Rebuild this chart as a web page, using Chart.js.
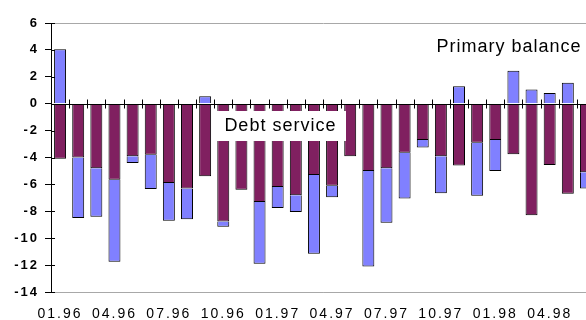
<!DOCTYPE html>
<html>
<head>
<meta charset="utf-8">
<script src="https://cdn.jsdelivr.net/npm/chart.js@4.4.0/dist/chart.umd.min.js"></script>
<style>
    html, body { margin: 0; padding: 0; background: #fff; overflow: hidden; }
    #wrap { width: 586px; height: 320px; overflow: hidden; }
</style>
</head>
<body>
<div id="wrap"><canvas id="budget-graphic" width="600" height="320"></canvas></div>
<script>
// Monthly budget, % of GDP: debt service vs primary balance

var months = [
    "01.96", "02.96", "03.96", "04.96", "05.96", "06.96", "07.96", "08.96", "09.96", "10.96",
    "11.96", "12.96", "01.97", "02.97", "03.97", "04.97", "05.97", "06.97", "07.97", "08.97",
    "09.97", "10.97", "11.97", "12.97", "01.98", "02.98", "03.98", "04.98", "05.98", "06.98",
];

var debtService = [
    -4.1, -4.0, -4.8, -5.65, -3.9, -3.8, -5.9, -6.3, -5.4, -8.75,
    -6.4, -7.3, -6.2, -6.8, -5.3, -6.1, -3.9, -5.0, -4.8, -3.65,
    -2.7, -3.9, -4.6, -2.9, -2.7, -3.75, -8.3, -4.55, -6.7, -5.1,
];

var primaryBalance = [
    4.05, -4.5, -3.6, -6.1, -0.5, -2.55, -2.8, -2.3, 0.55, -0.4,
    0, -4.6, -1.55, -1.25, -5.85, -0.85, 0, -7.1, -4.05, -3.4,
    -0.55, -2.75, 1.3, -3.95, -2.3, 2.45, 1.05, 0.8, 1.55, -1.2,
];

var yMin = -14;
var yMax = 6;
var yStep = 2;

var fontFamily = "'Liberation Sans', Arial, sans-serif";

// zero line, category ticks on it, inner y ticks and the two series captions
var axisMarks = {
    id: "axisMarks",
    beforeDraw: function (chart) {
        chart.ctx.letterSpacing = "2px";
    },
    afterDatasetsDraw: function (chart) {
        var ctx = chart.ctx;
        var x = chart.scales.x;
        var y = chart.scales.y;
        var area = chart.chartArea;
        var zero = Math.round(y.getPixelForValue(0)) + 0.5;

        ctx.save();
        ctx.strokeStyle = "#000";
        ctx.lineWidth = 1;
        ctx.beginPath();
        ctx.moveTo(area.left, zero);
        ctx.lineTo(area.right, zero);
        for (var i = 1; i < months.length; i++) {
            var px = Math.round((x.getPixelForValue(i - 1) + x.getPixelForValue(i)) / 2) + 0.5;
            ctx.moveTo(px, zero - 5);
            ctx.lineTo(px, zero + 4);
        }
        y.ticks.forEach(function (t) {
            var py = Math.round(y.getPixelForValue(t.value)) + 0.5;
            ctx.moveTo(area.left, py);
            ctx.lineTo(area.left + 4, py);
        });
        ctx.stroke();
        ctx.restore();
    },
    afterDraw: function (chart) {
        var ctx = chart.ctx;
        var x = chart.scales.x;
        var y = chart.scales.y;

        ctx.save();
        ctx.letterSpacing = "1px";
        ctx.font = "18px " + fontFamily;
        ctx.textBaseline = "middle";
        ctx.fillStyle = "#000";

        // "Debt service" sits in a white box over the bars
        var cx = x.getPixelForValue(12.15);
        var cy = y.getPixelForValue(-1.68);
        var w = ctx.measureText("Debt service").width;
        ctx.fillStyle = "#fff";
        ctx.fillRect(Math.round(cx - w / 2 - 10), Math.round(cy - 15), Math.round(w + 20), 30);
        ctx.fillStyle = "#000";
        ctx.textAlign = "center";
        ctx.fillText("Debt service", cx, cy);

        ctx.textAlign = "left";
        ctx.fillText("Primary balance", x.getPixelForValue(20.76), y.getPixelForValue(4.2));
        ctx.restore();

        ctx.letterSpacing = "0px";
    },
};

var ctx = document.getElementById("budget-graphic").getContext("2d");

var chart = new Chart(ctx, {
    type: "bar",
    data: {
        labels: months,
        datasets: [
            {
                label: "Debt service",
                data: debtService,
                backgroundColor: "#802060",
                borderColor: "#000",
                borderWidth: 1,
            },
            {
                label: "Primary balance",
                data: primaryBalance,
                backgroundColor: "#8080ff",
                borderColor: "#000",
                borderWidth: 1,
            },
        ],
    },
    options: {
        responsive: false,
        animation: false,
        devicePixelRatio: 1,
        categoryPercentage: 1,
        barPercentage: 0.66,
        layout: { padding: { top: 23, right: 3, left: 0, bottom: 0 } },
        plugins: {
            legend: { display: false },
            tooltip: { enabled: false },
        },
        scales: {
            x: {
                stacked: true,
                offset: true,
                afterFit: function (scale) {
                    scale.height = 28;
                },
                grid: { display: false, drawTicks: false },
                border: { display: true, color: "#a8a8a8", width: 1 },
                ticks: {
                    autoSkip: false,
                    maxRotation: 0,
                    padding: 14,
                    color: "#000",
                    font: { family: fontFamily, size: 14 },
                    callback: function (value, index) {
                        return index % 3 === 0 ? months[index] : "";
                    },
                },
            },
            y: {
                stacked: true,
                min: yMin,
                max: yMax,
                afterFit: function (scale) {
                    scale.width = 51;
                },
                ticks: {
                    stepSize: yStep,
                    padding: 6,
                    color: "#000",
                    font: { family: fontFamily, size: 13, weight: "bold" },
                },
                grid: {
                    color: function (c) {
                        return c.tick && (c.tick.value === yMax || c.tick.value === yMin) ? "#a8a8a8" : "rgba(0,0,0,0)";
                    },
                    tickColor: "#000",
                    tickLength: 6,
                },
                border: { display: true, color: "#000", width: 1 },
            },
        },
    },
    plugins: [axisMarks],
});
</script>
</body>
</html>
